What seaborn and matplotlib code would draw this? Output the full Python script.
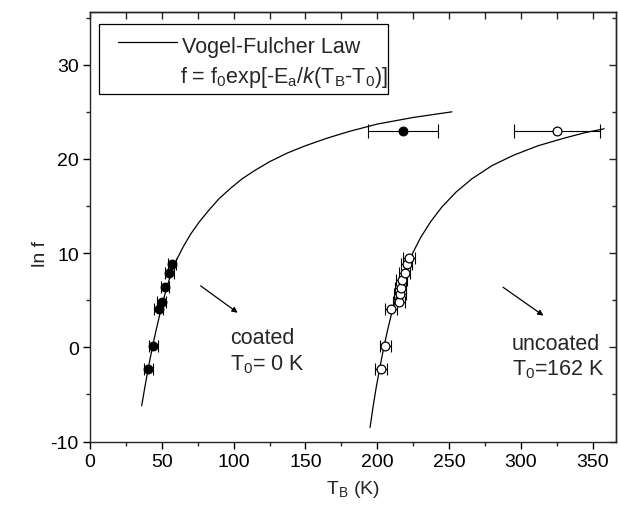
import numpy as np
import pandas as pd
import matplotlib
matplotlib.use("Agg")
import matplotlib.pyplot as plt
from matplotlib.ticker import MultipleLocator
from matplotlib.lines import Line2D
from matplotlib.patches import Rectangle
import seaborn as sns

# ---------------- data ----------------
coated_T = [40.7, 44.2, 47.9, 50.0, 52.3, 55.3, 57.0]
coated_lnf = [-2.3, 0.1, 4.1, 4.8, 6.4, 7.9, 8.8]
coated_err = [3, 3, 3, 3, 3, 3, 3]

uncoated_T = [202.7, 205.7, 209.7, 215.0, 215.7, 216.2, 216.9, 219.0, 220.4, 222.0]
uncoated_lnf = [-2.3, 0.1, 4.1, 4.8, 5.7, 6.3, 7.1, 7.9, 8.8, 9.5]
uncoated_err = [4, 4, 4, 4, 4, 4, 4, 4, 4, 4]

coated_hi_T = [218.0]
coated_hi_lnf = [23.0]
coated_hi_err = [24.5]

uncoated_hi_T = [325.0]
uncoated_hi_lnf = [23.0]
uncoated_hi_err = [30.0]

# Vogel-Fulcher fit curves
vf_coated_T = [36, 38, 40, 42, 44, 46, 48, 50, 53, 56, 60, 65, 70, 76, 83, 90, 98,
               106, 115, 125, 137, 150, 165, 180, 200, 225, 252]
vf_coated_lnf = [-6.2, -4.4, -2.7, -1.1, 0.4, 1.8, 3.1, 4.4, 6.1, 7.6, 9.2, 10.7,
                 12.0, 13.3, 14.6, 15.8, 16.9, 17.9, 18.8, 19.7, 20.6, 21.4, 22.2,
                 22.9, 23.7, 24.4, 25.0]
vf_uncoated_T = [195, 197, 199, 201, 203, 205, 207, 210, 213, 216, 220, 225, 230, 237,
                 245, 255, 266, 280, 295, 312, 330, 345, 358]
vf_uncoated_lnf = [-8.5, -6.4, -4.5, -2.8, -1.2, 0.3, 1.7, 3.6, 5.2, 6.6, 8.3, 10.1,
                   11.6, 13.3, 14.9, 16.5, 17.9, 19.3, 20.4, 21.4, 22.2, 22.8, 23.2]

x_ticks = [0, 50, 100, 150, 200, 250, 300, 350]
y_ticks = [-10, 0, 10, 20, 30]

# ---------------- style ----------------
sns.set_theme(style="ticks")
plt.rcParams["font.family"] = ["Liberation Sans", "DejaVu Sans"]
plt.rcParams["mathtext.fontset"] = "custom"
plt.rcParams["mathtext.rm"] = "Liberation Sans"
plt.rcParams["mathtext.it"] = "Liberation Sans:italic"
plt.rcParams["axes.unicode_minus"] = False
plt.rcParams["axes.linewidth"] = 1.0

FS_TICK = 14
FS_TXT = 15.5
fig = plt.figure(figsize=(6.18, 5.10), dpi=100)
ax = fig.add_axes([0.1456, 0.1322, 0.8518, 0.8424])

df_c = pd.DataFrame({"T": vf_coated_T, "lnf": vf_coated_lnf})
df_u = pd.DataFrame({"T": vf_uncoated_T, "lnf": vf_uncoated_lnf})
sns.lineplot(data=df_c, x="T", y="lnf", sort=False, color="black", lw=0.9, ax=ax)
sns.lineplot(data=df_u, x="T", y="lnf", sort=False, color="black", lw=0.9, ax=ax)

# error bars
eb = dict(fmt="none", ecolor="black", elinewidth=0.8, capthick=0.8)
ax.errorbar(coated_T, coated_lnf, xerr=coated_err, capsize=4, **eb)
ax.errorbar(uncoated_T, uncoated_lnf, xerr=uncoated_err, capsize=4, **eb)
ax.errorbar(coated_hi_T, coated_hi_lnf, xerr=coated_hi_err, capsize=5, **eb)
ax.errorbar(uncoated_hi_T, uncoated_hi_lnf, xerr=uncoated_hi_err, capsize=5, **eb)

# markers
df_pc = pd.DataFrame({"T": coated_T + coated_hi_T, "lnf": coated_lnf + coated_hi_lnf})
df_pu = pd.DataFrame({"T": uncoated_T + uncoated_hi_T, "lnf": uncoated_lnf + uncoated_hi_lnf})
sns.scatterplot(data=df_pc, x="T", y="lnf", marker="o", s=40, color="black",
                edgecolor="black", linewidth=0.8, ax=ax, zorder=5)
sns.scatterplot(data=df_pu, x="T", y="lnf", marker="o", s=40, facecolor="white",
                edgecolor="black", linewidth=0.9, ax=ax, zorder=5)

ax.set_xlim(0, 366.5)
ax.set_ylim(-10, 35.6)
ax.set_xticks(x_ticks)
ax.set_yticks(y_ticks)
ax.xaxis.set_minor_locator(MultipleLocator(25))
ax.yaxis.set_minor_locator(MultipleLocator(5))
ax.tick_params(which="major", direction="out", length=5, width=1, labelsize=FS_TICK,
               colors="black", pad=3)
ax.tick_params(which="minor", direction="out", length=3, width=1)

secx = ax.secondary_xaxis("top")
secx.xaxis.set_major_locator(MultipleLocator(25))
secx.tick_params(direction="in", length=5, width=1, labeltop=False)
secy = ax.secondary_yaxis("right")
secy.yaxis.set_major_locator(MultipleLocator(10))
secy.yaxis.set_minor_locator(MultipleLocator(5))
secy.tick_params(which="major", direction="in", length=5, width=1, labelright=False)
secy.tick_params(which="minor", direction="in", length=3, width=1, labelright=False)

ax.set_xlabel("T$_\\mathrm{B}$ (K)", fontsize=FS_TICK, labelpad=6)
ax.set_ylabel("ln f", fontsize=FS_TICK)
ax.yaxis.set_label_coords(-0.078, 0.44)

# annotations
arrow = dict(arrowstyle="-|>", color="black", lw=0.9, mutation_scale=8)
ax.annotate("", xy=(104.4, 3.5), xytext=(75.5, 6.7), arrowprops=arrow)
ax.annotate("", xy=(317.3, 3.2), xytext=(286.0, 6.55), arrowprops=arrow)
ax.text(97.6, 0.47, "coated", fontsize=FS_TXT, va="baseline", ha="left")
ax.text(97.6, -2.3, "T$_0$= 0 K", fontsize=FS_TXT, va="baseline", ha="left")
ax.text(293.6, -0.15, "uncoated", fontsize=FS_TXT, va="baseline", ha="left")
ax.text(293.6, -2.9, "T$_0$=162 K", fontsize=FS_TXT, va="baseline", ha="left")

# legend box (drawn by hand, axes-fraction coordinates)
ta = ax.transAxes
ax.add_patch(Rectangle((0.0177, 0.8091), 0.5485, 0.1629, transform=ta,
                       facecolor="white", edgecolor="black", lw=0.9, zorder=6))
ax.add_line(Line2D([0.0534, 0.1653], [0.9295, 0.9295], transform=ta,
                   color="black", lw=0.9, zorder=7))
ax.text(0.1743, 0.9062, "Vogel-Fulcher Law", transform=ta, fontsize=FS_TXT,
        va="baseline", ha="left", zorder=7)
ax.text(0.1710, 0.8364,
        "f = f$_0$exp[-E$_\\mathrm{a}$/$k$(T$_\\mathrm{B}$-T$_0$)]",
        transform=ta, fontsize=FS_TXT, va="baseline", ha="left", zorder=7)

fig.savefig("out.png", dpi=100)
